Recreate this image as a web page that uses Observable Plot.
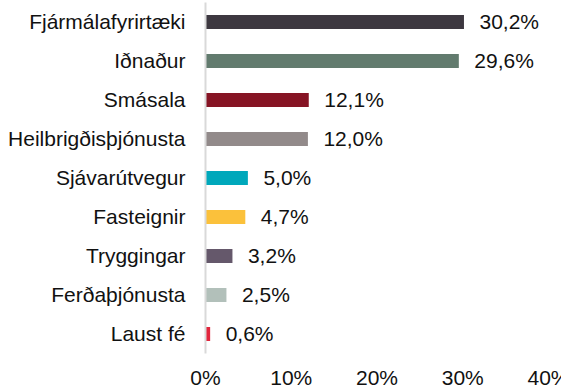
<!DOCTYPE html>
<html>
<head>
<meta charset="utf-8">
<script src="https://cdn.jsdelivr.net/npm/d3@7"></script>
<script src="https://cdn.jsdelivr.net/npm/@observablehq/plot@0.6"></script>
<style>
  html, body { margin: 0; padding: 0; background: #fff; overflow: hidden; }
</style>
</head>
<body>
<div id="chart"></div>
<script>
// Sector weights (percent of portfolio)
const categories = [
  "Fjármálafyrirtæki", "Iðnaður", "Smásala", "Heilbrigðisþjónusta",
  "Sjávarútvegur", "Fasteignir", "Tryggingar", "Ferðaþjónusta", "Laust fé"
];
const values = [30.2, 29.6, 12.1, 12.0, 5.0, 4.7, 3.2, 2.5, 0.6];
const colors = [
  "#3d3840", "#627b6e", "#861424", "#928a8a",
  "#00a8bb", "#fbc13b", "#65586b", "#b2c0ba", "#e2263d"
];
const xTicks = [0, 10, 20, 30, 40];

const rows = categories.map((c, i) => ({category: c, value: values[i], color: colors[i]}));
const fmt = v => v.toFixed(1).replace(".", ",") + "%";

const chart = Plot.plot({
  width: 561,
  height: 388,
  marginLeft: 205,
  marginRight: 13,
  marginTop: 2.5,
  marginBottom: 34.5,
  style: {fontFamily: "Arial, 'Liberation Sans', sans-serif", fontSize: "21px", color: "#111"},
  x: {domain: [0, 40], ticks: xTicks, tickFormat: d => d + "%", tickSize: 0, tickPadding: 16, label: null},
  y: {domain: categories, paddingInner: 0.64, paddingOuter: 0.32, tickSize: 0, tickPadding: 20, label: null},
  marks: [
    Plot.barX(rows, {y: "category", x: "value", fill: "color", insetLeft: 1}),
    Plot.ruleX([0], {stroke: "#d9d9d9", strokeWidth: 2}),
    Plot.text(rows, {y: "category", x: "value", text: d => fmt(d.value), textAnchor: "start", dx: 15, fill: "#111"})
  ]
});
document.getElementById("chart").appendChild(chart);
</script>
</body>
</html>
